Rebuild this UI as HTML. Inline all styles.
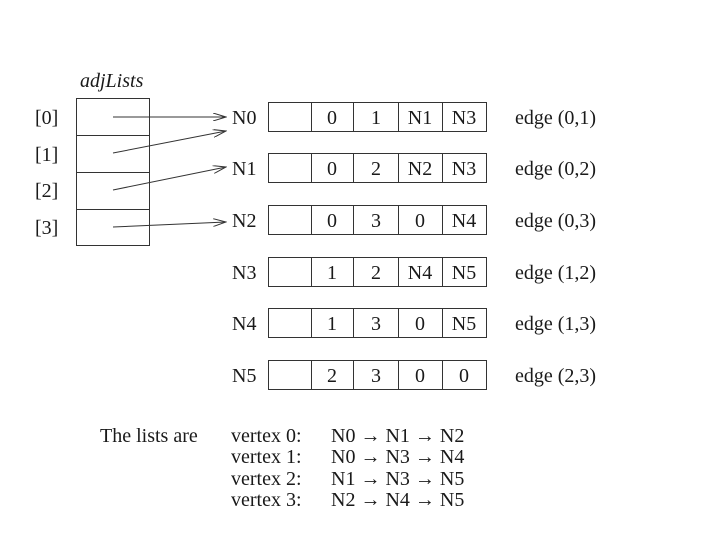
<!DOCTYPE html>
<html><head><meta charset="utf-8"><style>
body{margin:0;background:#fff;}
svg{display:block;}
text{font-family:"Liberation Serif",serif;font-size:20px;fill:#1a1a1a;}
</style></head><body>
<svg width="714" height="534" viewBox="0 0 714 534">
<defs><marker id="a" markerWidth="14" markerHeight="8" refX="13" refY="4" orient="auto" markerUnits="userSpaceOnUse"><path d="M0,0 L13,4 L0,8" fill="none" stroke="#333" stroke-width="1"/></marker></defs>
<text x="80" y="87" font-style="italic" font-size="19">adjLists</text>
<g fill="none" stroke="#333" stroke-width="1">
<rect x="76.5" y="98.5" width="73" height="147"/>
<line x1="76" y1="135.5" x2="150" y2="135.5"/>
<line x1="76" y1="172.5" x2="150" y2="172.5"/>
<line x1="76" y1="209.5" x2="150" y2="209.5"/>
<line x1="113" y1="117" x2="226" y2="117" marker-end="url(#a)"/>
<line x1="113" y1="153" x2="226" y2="131" marker-end="url(#a)"/>
<line x1="113" y1="190" x2="226" y2="167" marker-end="url(#a)"/>
<line x1="113" y1="227" x2="226" y2="222" marker-end="url(#a)"/>
</g>
<text x="35" y="124">[0]</text>
<text x="35" y="161">[1]</text>
<text x="35" y="197">[2]</text>
<text x="35" y="234">[3]</text>
<g fill="none" stroke="#333" stroke-width="1">
<rect x="268.5" y="102.5" width="218" height="29"/><path d="M311.5,102v30M353.5,102v30M398.5,102v30M442.5,102v30"/>
<rect x="268.5" y="153.5" width="218" height="29"/><path d="M311.5,153v30M353.5,153v30M398.5,153v30M442.5,153v30"/>
<rect x="268.5" y="205.5" width="218" height="29"/><path d="M311.5,205v30M353.5,205v30M398.5,205v30M442.5,205v30"/>
<rect x="268.5" y="257.5" width="218" height="29"/><path d="M311.5,257v30M353.5,257v30M398.5,257v30M442.5,257v30"/>
<rect x="268.5" y="308.5" width="218" height="29"/><path d="M311.5,308v30M353.5,308v30M398.5,308v30M442.5,308v30"/>
<rect x="268.5" y="360.5" width="218" height="29"/><path d="M311.5,360v30M353.5,360v30M398.5,360v30M442.5,360v30"/>
</g>
<g text-anchor="middle">
<text x="332" y="124">0</text><text x="376" y="124">1</text><text x="420" y="124">N1</text><text x="464" y="124">N3</text>
<text x="332" y="175">0</text><text x="376" y="175">2</text><text x="420" y="175">N2</text><text x="464" y="175">N3</text>
<text x="332" y="227">0</text><text x="376" y="227">3</text><text x="420" y="227">0</text><text x="464" y="227">N4</text>
<text x="332" y="279">1</text><text x="376" y="279">2</text><text x="420" y="279">N4</text><text x="464" y="279">N5</text>
<text x="332" y="330">1</text><text x="376" y="330">3</text><text x="420" y="330">0</text><text x="464" y="330">N5</text>
<text x="332" y="382">2</text><text x="376" y="382">3</text><text x="420" y="382">0</text><text x="464" y="382">0</text>
</g>
<text x="232" y="124">N0</text><text x="232" y="175">N1</text><text x="232" y="227">N2</text>
<text x="232" y="279">N3</text><text x="232" y="330">N4</text><text x="232" y="382">N5</text>
<text x="515" y="124">edge (0,1)</text><text x="515" y="175">edge (0,2)</text><text x="515" y="227">edge (0,3)</text>
<text x="515" y="279">edge (1,2)</text><text x="515" y="330">edge (1,3)</text><text x="515" y="382">edge (2,3)</text>
<text x="100" y="442">The lists are</text>
<text x="231" y="442">vertex 0:</text><text x="331" y="442">N0 → N1 → N2</text>
<text x="231" y="463">vertex 1:</text><text x="331" y="463">N0 → N3 → N4</text>
<text x="231" y="485">vertex 2:</text><text x="331" y="485">N1 → N3 → N5</text>
<text x="231" y="506">vertex 3:</text><text x="331" y="506">N2 → N4 → N5</text>
</svg>
</body></html>
